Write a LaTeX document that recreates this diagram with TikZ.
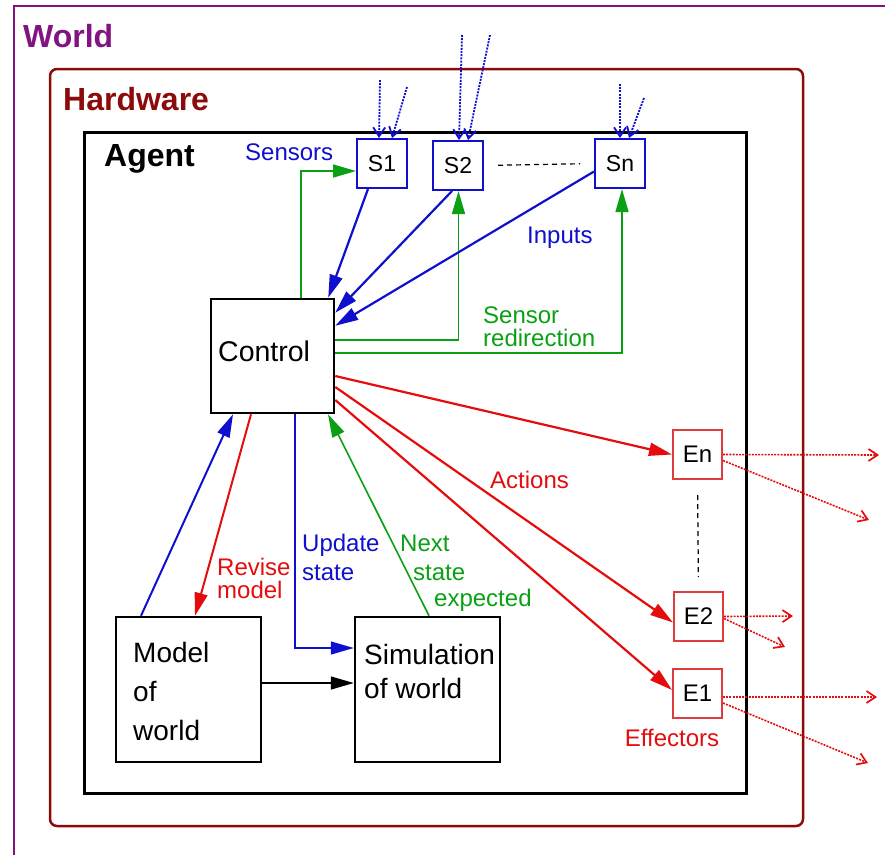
\documentclass[tikz,border=0pt]{standalone}
\usepackage{fontspec}
\setmainfont{Liberation Sans}
\usetikzlibrary{arrows.meta,calc}
\definecolor{wpurple}{RGB}{130,20,130}
\definecolor{hred}{RGB}{140,10,10}
\definecolor{sblue}{RGB}{15,15,205}
\definecolor{sgreen}{RGB}{10,160,20}
\definecolor{ared}{RGB}{228,12,12}
\definecolor{ered}{RGB}{222,60,60}
\begin{document}
\begin{tikzpicture}[x=1pt,y=-1pt,
  cbox/.style={draw, line width=2.5pt, inner sep=0pt},
  sbox/.style={draw=sblue, line width=2pt, minimum width=50pt, minimum height=49pt, inner sep=0pt, font=\fontsize{23}{23}\selectfont},
  ebox/.style={draw=ered, line width=2pt, minimum width=49pt, minimum height=49pt, inner sep=0pt, font=\fontsize{24}{24}\selectfont},
  lab/.style={anchor=west, inner sep=0pt, text height=17pt, text depth=0pt, font=\fontsize{24}{24}\selectfont},
  ttl/.style={anchor=west, inner sep=0pt, text height=23pt, text depth=0pt, font=\bfseries\fontsize{32}{32}\selectfont},
  btext/.style={anchor=west, inner sep=0pt, align=left},
  harrow/.style={-{Triangle[length=23pt,width=13pt]}},
  inarrow/.style={draw=sblue, dash pattern=on 2pt off 1.2pt, line width=1.8pt, -{Straight Barb[length=9pt,width=12pt,line width=1.8pt]}},
  outarrow/.style={draw=ared, dash pattern=on 2pt off 1.2pt, line width=1.6pt, -{Straight Barb[length=9pt,width=12pt,line width=1.7pt]}},
  sepline/.style={draw=black, line width=1.2pt, dash pattern=on 5pt off 4pt}
]
\useasboundingbox (0,0) rectangle (885,855);
% World frame (top and left visible)
\draw[wpurple, line width=2pt] (14,855) -- (14,6) -- (885,6);
\node[ttl, text=wpurple] (worldT) at (23,36) {World};
% Hardware
\node[draw=hred, line width=2.5pt, rounded corners=7pt, minimum width=753pt, minimum height=757pt, inner sep=0pt] (hw) at (426.5,447.5) {};
\node[ttl, text=hred] (hwT) at (63,99) {Hardware};
% Agent
\node[draw=black, line width=3pt, minimum width=662pt, minimum height=661pt, inner sep=0pt] (agent) at (415,462.5) {};
\node[ttl] (agentT) at (104,155) {Agent};
% Main boxes
\node[cbox, minimum width=123pt, minimum height=114pt] (ctrl) at (272.5,356) {};
\node[btext, font=\fontsize{28.5}{28.5}\selectfont] (ctrlT) at (218,351) {Control};
\node[cbox, minimum width=145pt, minimum height=145pt] (model) at (188.5,689.5) {};
\node[btext, font=\fontsize{28}{39}\selectfont] (modelT) at (133,691) {Model\\of\\world};
\node[cbox, minimum width=145pt, minimum height=145pt] (sim) at (427.5,689.5) {};
\node[btext, font=\fontsize{28}{34}\selectfont] (simT) at (364,671) {Simulation\\of world};
% Sensors
\node[sbox] (S1) at (382,163.5) {S1};
\node[sbox] (S2) at (458,165.5) {S2};
\node[sbox] (Sn) at (620,163.5) {Sn};
% Effectors
\node[ebox] (En) at (697.5,454.5) {En};
\node[ebox] (E2) at (698.5,616.5) {E2};
\node[ebox] (E1) at (697.5,693) {E1};
% dashed separators
\draw[sepline, shorten <=14pt, shorten >=14pt] (S2.east) -- (Sn.west);
\draw[sepline, shorten <=15pt, shorten >=14pt] (En.south) -- (E2.north);
% incoming sensor signals
\coordinate (a1) at (380,80);
\coordinate (a2) at (407,87);
\coordinate (b1) at (462,35);
\coordinate (b2) at (490,35);
\coordinate (c1) at (620,84);
\coordinate (c2) at (644,98);
\draw[inarrow] (a1) -- ([xshift=-3pt]S1.north);
\draw[inarrow] (a2) -- ([xshift=10pt]S1.north);
\draw[inarrow] (b1) -- ([xshift=1pt]S2.north);
\draw[inarrow] (b2) -- ([xshift=10pt]S2.north);
\draw[inarrow] (c1) -- ([xshift=0pt]Sn.north);
\draw[inarrow] (c2) -- ([xshift=9pt]Sn.north);
% outgoing effector signals
\coordinate (n1) at (879,455);
\coordinate (n2) at (869,520);
\coordinate (m1) at (793,616);
\coordinate (m2) at (785,647);
\coordinate (k1) at (877,697);
\coordinate (k2) at (868,763);
\draw[outarrow] (En.east) -- (n1);
\draw[outarrow] ([yshift=-6pt]En.east) -- (n2);
\draw[outarrow] (E2.east) -- (m1);
\draw[outarrow] ([yshift=-2pt]E2.east) -- (m2);
\draw[outarrow] ([yshift=-4pt]E1.east) -- (k1);
\draw[outarrow] ([yshift=-10pt]E1.east) -- (k2);
% sensor redirection (green)
\draw[sgreen, line width=1.4pt, harrow] ([xshift=28.5pt]ctrl.north) |- ([yshift=-7.5pt]S1.west);
\draw[sgreen, line width=1.4pt, harrow] ([yshift=16pt]ctrl.east) -| ([xshift=0.5pt]S2.south);
\draw[sgreen, line width=1.4pt, harrow] ([yshift=3pt]ctrl.east) -| ([xshift=2pt]Sn.south);
% inputs (blue)
\draw[sblue, line width=2.2pt, harrow] ([xshift=-14pt]S1.south) -- ([xshift=-7pt]ctrl.north east);
\draw[sblue, line width=2.2pt, harrow] ([xshift=-6pt]S2.south) -- ([yshift=-15pt]ctrl.north east);
\draw[sblue, line width=2.2pt, harrow] ([yshift=-8pt]Sn.west) -- ([yshift=-28pt]ctrl.north east);
% actions (red)
\draw[ared, line width=2.2pt, harrow] ([yshift=-20pt]ctrl.east) -- (En.west);
\draw[ared, line width=2.2pt, harrow] ([yshift=-31pt]ctrl.east) -- ([yshift=-6pt]E2.west);
\draw[ared, line width=2.2pt, harrow] ([yshift=-44pt]ctrl.east) -- ([yshift=3pt]E1.west);
% model / control
\draw[sblue, line width=2pt, harrow] ([xshift=-47.5pt]model.north) -- ([xshift=-39.5pt]ctrl.south);
\draw[ared, line width=2pt, harrow] ([xshift=-21.5pt]ctrl.south) -- ([xshift=6.5pt]model.north);
\draw[sblue, line width=1.4pt, harrow] ([xshift=22.5pt]ctrl.south) |- ([yshift=41.5pt]sim.west);
\draw[sgreen, line width=1.6pt, harrow] ([xshift=1.5pt]sim.north) -- ([xshift=55.5pt]ctrl.south);
\draw[black, line width=1.4pt, harrow] ([yshift=6.5pt]model.east) -- ([yshift=6.5pt]sim.west);
% labels
\node[lab, text=sblue] (lSensors) at (245,152) {Sensors};
\node[lab, text=sblue] (lInputs) at (527,235) {Inputs};
\node[lab, text=sgreen] (lSensor) at (483,315) {Sensor};
\node[lab, text=sgreen] (lRedir) at (483,338) {redirection};
\node[lab, text=ared] (lActions) at (490,480) {Actions};
\node[lab, text=ared] (lRevise) at (217,567) {Revise};
\node[lab, text=ared] (lModel) at (217,590) {model};
\node[lab, text=sblue] (lUpdate) at (302,543) {Update};
\node[lab, text=sblue] (lState) at (302,572) {state};
\node[lab, text=sgreen] (lNext) at (400,543) {Next};
\node[lab, text=sgreen] (lState2) at (413,572) {state};
\node[lab, text=sgreen] (lExpected) at (434,598) {expected};
\node[lab, text=ared, anchor=center] (lEff) at (672,738) {Effectors};
\end{tikzpicture}
\end{document}
